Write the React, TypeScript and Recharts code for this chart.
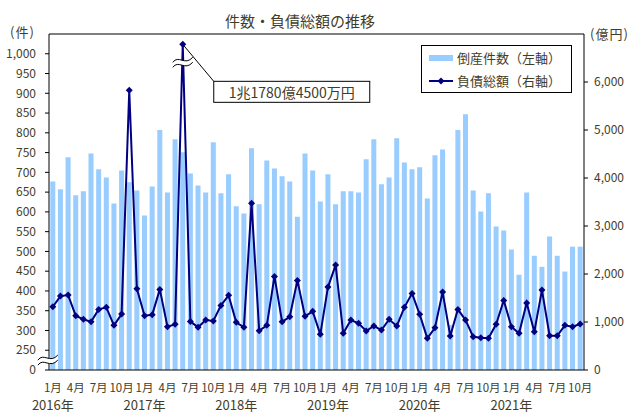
import { ComposedChart, Bar, Line, XAxis, YAxis, ReferenceLine, ReferenceDot, Legend } from "recharts"

const FONT = '"Noto Sans CJK JP", "Noto Sans", sans-serif'
const TEXT = "#433d28"
const BAR_COLOR = "#99ccff"
const LINE_COLOR = "#000080"

// categories: Jan 2016 .. Oct 2021
const years = [2016, 2017, 2018, 2019, 2020, 2021]
const lastMonthOf2021 = 10
const months: string[] = []
years.forEach((y) => {
  for (let m = 1; m <= 12; m++) {
    if (y === 2021 && m > lastMonthOf2021) break
    months.push(`${y}-${m}`)
  }
})

// 倒産件数 (left axis)
const cases = [
  677, 657, 738, 642, 652, 748, 708, 687, 621, 705, 675, 654,
  591, 664, 807, 649, 784, 751, 697, 667, 649, 776, 647, 695,
  614, 596, 761, 619, 730, 710, 690, 677, 588, 748, 705, 626,
  695, 619, 652, 652, 649, 733, 784, 670, 687, 786, 725, 708,
  713, 634, 743, 758, 314, 807, 847, 654, 601, 647, 563, 553,
  505, 441, 649, 489, 461, 538, 489, 449, 512, 512,
]

// 負債総額 億円 (right axis)
const debt = [
  1317, 1540, 1561, 1130, 1055, 1005, 1263, 1305, 931, 1165, 5827, 1692,
  1130, 1151, 1679, 901, 951, 11780, 1013, 889, 1040, 1020, 1346, 1555,
  993, 889, 3475, 818, 930, 1950, 1005, 1109, 1867, 1118, 1222, 743,
  1727, 2185, 764, 1040, 972, 812, 916, 832, 1055, 916, 1305, 1596,
  1159, 660, 880, 1623, 708, 1263, 1040, 693, 672, 660, 951, 1450,
  901, 764, 1394, 797, 1665, 714, 714, 930, 901, 957,
]

const leftTicks = [200, 250, 300, 350, 400, 450, 500, 550, 600, 650, 700, 750, 800, 850, 900, 950, 1000]
const rightTicks = [0, 1000, 2000, 3000, 4000, 5000, 6000]
const LEFT_FLOOR = 200 // shown as 0 below the axis break
const LEFT_MAX = 1050
const RIGHT_MAX = 7000
const BREAK_PLOT = 6785 // where the off-scale value is drawn

const data = months.map((month, i) => ({
  month,
  cases: cases[i],
  debt: debt[i] > RIGHT_MAX ? BREAK_PLOT : debt[i],
}))

const peakIndex = debt.indexOf(Math.max(...debt))

function Squiggle({ x, y }: { x: number; y: number }) {
  const up = `M${x - 10},${y - 1} C${x - 4},${y - 9} ${x + 2},${y + 3} ${x + 10},${y - 6}`
  const low = `M${x - 10},${y + 4} C${x - 4},${y - 4} ${x + 2},${y + 8} ${x + 10},${y - 1}`
  const band = `${up} L${x + 10},${y - 1} C${x + 2},${y + 8} ${x - 4},${y - 4} ${x - 10},${y + 4} Z`
  return (
    <g>
      <path d={band} fill="#fff" stroke="none" />
      <path d={up} fill="none" stroke="#000" strokeWidth={1} />
      <path d={low} fill="none" stroke="#000" strokeWidth={1} />
    </g>
  )
}

function PeakNote({ cx, cy }: { cx: number; cy: number }) {
  const bx = cx + 31
  const by = cy + 37
  return (
    <g>
      <Squiggle x={cx} y={cy + 19} />
      <line x1={cx} y1={cy} x2={bx} y2={by} stroke="#000" strokeWidth={1} />
      <rect x={bx} y={by} width={156} height={21} fill="#fff" stroke="#000" strokeWidth={1} />
      <text x={bx + 78} y={by + 11} textAnchor="middle" dominantBaseline="central" fontSize={14} fontFamily={FONT} fill={TEXT}>
        1兆1780億4500万円
      </text>
    </g>
  )
}

function MonthTick(props: any) {
  const { x, y, payload } = props
  const [yr, m] = String(payload.value).split("-").map(Number)
  if (m % 3 !== 1) return <g />
  return (
    <g fontFamily={FONT} fill={TEXT}>
      <text x={x} y={y + 17} textAnchor="middle" dominantBaseline="central" fontSize={11.5}>
        {m}月
      </text>
      {m === 1 && (
        <text x={x} y={y + 34} textAnchor="middle" dominantBaseline="central" fontSize={13}>{yr}年</text>
      )}
    </g>
  )
}

function Diamond(props: any) {
  const { cx, cy, index } = props
  if (cx == null || cy == null) return <g key={index} />
  const r = 3.5
  return <path key={index} d={`M${cx},${cy - r} L${cx + r},${cy} L${cx},${cy + r} L${cx - r},${cy} Z`} fill={LINE_COLOR} />
}

function LegendBox() {
  return (
    <div style={{ width: 151, height: 48, boxSizing: "border-box", border: "1px solid #000", background: "#fff", fontFamily: FONT, fontSize: 13, color: TEXT, position: "relative" }}>
      <div style={{ position: "absolute", left: 7, top: 9, width: 24, height: 6, background: BAR_COLOR }} />
      <div style={{ position: "absolute", left: 35, top: 3, lineHeight: "18px", whiteSpace: "nowrap" }}>倒産件数（左軸）</div>
      <svg style={{ position: "absolute", left: 7, top: 30 }} width={24} height={10}>
        <line x1={0} y1={5} x2={24} y2={5} stroke={LINE_COLOR} strokeWidth={2} />
        <path d="M12,1.5 L15.5,5 L12,8.5 L8.5,5 Z" fill={LINE_COLOR} />
      </svg>
      <div style={{ position: "absolute", left: 35, top: 26, lineHeight: "18px", whiteSpace: "nowrap" }}>負債総額（右軸）</div>
    </div>
  )
}

const tickStyle = { fill: TEXT, fontSize: 12, fontFamily: FONT }

export default function App() {
  return (
    <div style={{ position: "absolute", left: 0, top: 0, width: 642, height: 419, background: "#fff", fontFamily: FONT }}>
      <ComposedChart width={642} height={419} data={data} margin={{ top: 34, right: 0, bottom: 0, left: 0 }} barCategoryGap="17%">
        <XAxis dataKey="month" height={49} interval={0} tickLine={false} tickSize={0} tickMargin={0} axisLine={{ stroke: "#000" }} tick={(p: any) => <MonthTick {...p} />} />
        <YAxis
          yAxisId="left"
          width={49}
          domain={[LEFT_FLOOR, LEFT_MAX]}
          ticks={leftTicks}
          interval={0}
          allowDataOverflow
          tickSize={4}
          tickMargin={9}
          axisLine={{ stroke: "#000" }}
          tickLine={{ stroke: "#000" }}
          tick={tickStyle}
          tickFormatter={(v: number) => (v === LEFT_FLOOR ? "0" : v.toLocaleString("en-US"))}
        />
        <YAxis
          yAxisId="right"
          orientation="right"
          width={58}
          domain={[0, RIGHT_MAX]}
          ticks={rightTicks}
          interval={0}
          allowDataOverflow
          tickSize={4}
          tickMargin={6}
          axisLine={{ stroke: "#000" }}
          tickLine={{ stroke: "#000" }}
          tick={tickStyle}
          tickFormatter={(v: number) => v.toLocaleString("en-US")}
        />
        <ReferenceLine yAxisId="left" y={LEFT_MAX} stroke="#000" strokeWidth={1} />
        <Bar yAxisId="left" dataKey="cases" fill={BAR_COLOR} isAnimationActive={false} />
        <Line yAxisId="right" type="linear" dataKey="debt" stroke={LINE_COLOR} strokeWidth={2} dot={(p: any) => <Diamond {...p} />} activeDot={false} isAnimationActive={false} />
        <ReferenceDot
          yAxisId="left"
          x={months[0]}
          y={225}
          ifOverflow="visible"
          shape={(p: any) => <Squiggle x={p.cx - 5} y={p.cy + 1} />}
        />
        <ReferenceDot
          yAxisId="right"
          x={months[peakIndex]}
          y={BREAK_PLOT}
          ifOverflow="visible"
          shape={(p: any) => <PeakNote cx={p.cx} cy={p.cy} />}
        />
        <Legend
          layout="vertical"
          align="center"
          verticalAlign="middle"
          wrapperStyle={{ left: 421, top: 45, width: 151, height: 48 }}
          content={() => <LegendBox />}
        />
      </ComposedChart>
      <div style={{ position: "absolute", left: 150, width: 300, top: 11, textAlign: "center", fontSize: 15, color: TEXT, lineHeight: "20px" }}>
        件数・負債総額の推移
      </div>
      <div style={{ position: "absolute", left: 10, top: 23, fontSize: 13, color: TEXT, lineHeight: "18px", letterSpacing: 1 }}>(件)</div>
      <div style={{ position: "absolute", left: 590, top: 25, fontSize: 13, color: TEXT, lineHeight: "18px", letterSpacing: 1 }}>(億円)</div>
    </div>
  )
}
